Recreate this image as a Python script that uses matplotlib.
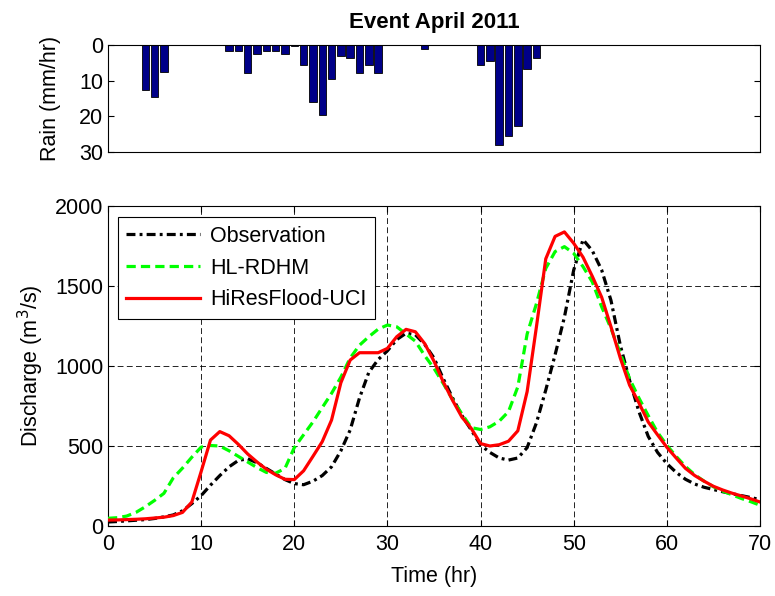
import matplotlib
matplotlib.use('Agg')
import matplotlib.pyplot as plt
import numpy as np

# ---------------- data ----------------
hours = list(range(71))

rain_hours = [4, 5, 6, 13, 14, 15, 16, 17, 18, 19, 20, 21, 22, 23, 24, 25, 26, 27, 28, 29,
              34, 40, 41, 42, 43, 44, 45, 46]
rain_mm = [12.6, 14.5, 7.6, 1.8, 1.8, 7.9, 2.6, 1.8, 1.8, 2.6, 0.3, 5.6, 15.9, 19.5, 9.6, 3.0,
           3.7, 7.9, 5.6, 7.9, 1.2, 5.6, 4.6, 27.9, 25.5, 22.7, 6.7, 3.7]

observation = [25, 28, 32, 36, 40, 47, 57, 69, 95, 140,
               190, 255, 315, 370, 410, 420, 395, 360, 325, 290,
               265, 258, 280, 315, 370, 470, 600, 800, 960, 1040,
               1095, 1165, 1205, 1195, 1135, 1050, 920, 800, 690, 600,
               506, 460, 425, 412, 425, 490, 645, 850, 1070, 1305,
               1600, 1790, 1720, 1600, 1410, 1130, 910, 715, 560, 460,
               390, 335, 292, 262, 242, 228, 214, 202, 190, 178,
               165]

hl_rdhm = [48, 52, 62, 85, 120, 160, 204, 300, 362, 430,
           493, 503, 500, 470, 435, 400, 365, 335, 330, 360,
           490, 570, 650, 740, 829, 930, 1050, 1130, 1183, 1230,
           1256, 1245, 1200, 1155, 1065, 985, 890, 790, 700, 615,
           603, 620, 655, 715, 870, 1200, 1390, 1610, 1715, 1746,
           1704, 1621, 1525, 1370, 1235, 1080, 920, 800, 690, 585,
           505, 435, 372, 320, 280, 245, 218, 195, 172, 152,
           130]

hiresflood_uci = [37, 38, 40, 42, 45, 50, 55, 65, 85, 150,
                  340, 537, 590, 564, 510, 450, 400, 355, 320, 292,
                  290, 345, 435, 527, 662, 895, 1037, 1083, 1083, 1083,
                  1110, 1183, 1229, 1214, 1140, 1030, 900, 785, 680, 610,
                  515, 500, 508, 530, 595, 840, 1246, 1670, 1810, 1838,
                  1767, 1680, 1560, 1430, 1245, 1050, 880, 770, 650, 570,
                  492, 425, 360, 315, 280, 248, 225, 205, 188, 170,
                  150]

series_labels = ['Observation', 'HL-RDHM', 'HiResFlood-UCI']

# ---------------- style ----------------
plt.rcParams['font.family'] = ['Liberation Sans', 'DejaVu Sans']
FS = 15.5

fig = plt.figure(figsize=(7.75, 5.96), dpi=100)

# ---------------- rain panel ----------------
ax1 = fig.add_axes([108 / 775, 1 - 152 / 596, (760 - 108) / 775, (152 - 45) / 596])
rain = np.zeros(len(hours))
rain[rain_hours] = rain_mm
ax1.bar(hours, rain, width=0.8, color='#000088', edgecolor='black', linewidth=0.6)
ax1.set_xlim(0, 70)
ax1.set_ylim(30, 0)
ax1.set_yticks([0, 10, 20, 30])
ax1.set_xticks([])
ax1.tick_params(axis='y', direction='in', right=True, labelsize=FS, length=4, width=0.8)
ax1.set_ylabel('Rain (mm/hr)', fontsize=FS, labelpad=13)
ax1.set_title('Event April 2011', fontsize=16, fontweight='bold', pad=12)
for s in ax1.spines.values():
    s.set_linewidth(0.8)

# ---------------- discharge panel ----------------
ax2 = fig.add_axes([108 / 775, 1 - 526 / 596, (760 - 108) / 775, (526 - 206) / 596])
ax2.plot(hours, observation, color='black', lw=2.3,
         linestyle=(0, (2.8, 1.3, 0.9, 1.3)), label=series_labels[0], zorder=3)
ax2.plot(hours, hl_rdhm, color='#00ff00', lw=2.3,
         linestyle=(0, (2.9, 1.6)), label=series_labels[1], zorder=3)
ax2.plot(hours, hiresflood_uci, color='#ff0000', lw=2.3,
         linestyle='-', label=series_labels[2], zorder=4)
ax2.set_xlim(0, 70)
ax2.set_ylim(0, 2000)
ax2.set_xticks(range(0, 71, 10))
ax2.set_yticks(range(0, 2001, 500))
ax2.tick_params(direction='in', top=True, right=True, labelsize=FS, length=4, width=0.8)
ax2.tick_params(axis='x', pad=6)
ax2.grid(True, color='black', linestyle=(0, (7, 4)), linewidth=0.6)
ax2.set_xlabel('Time (hr)', fontsize=FS, labelpad=8)
ax2.set_ylabel('Discharge (m$^3$/s)', fontsize=FS, labelpad=6)
for s in ax2.spines.values():
    s.set_linewidth(0.8)

leg = ax2.legend(loc='upper left', fontsize=FS, frameon=True, fancybox=False,
                 edgecolor='black', framealpha=1, handlelength=3.4, handletextpad=0.5,
                 borderpad=0.4, labelspacing=0.5, bbox_to_anchor=(0.015, 0.965),
                 borderaxespad=0)
leg.get_frame().set_linewidth(0.8)

fig.savefig('out.png', dpi=100)
